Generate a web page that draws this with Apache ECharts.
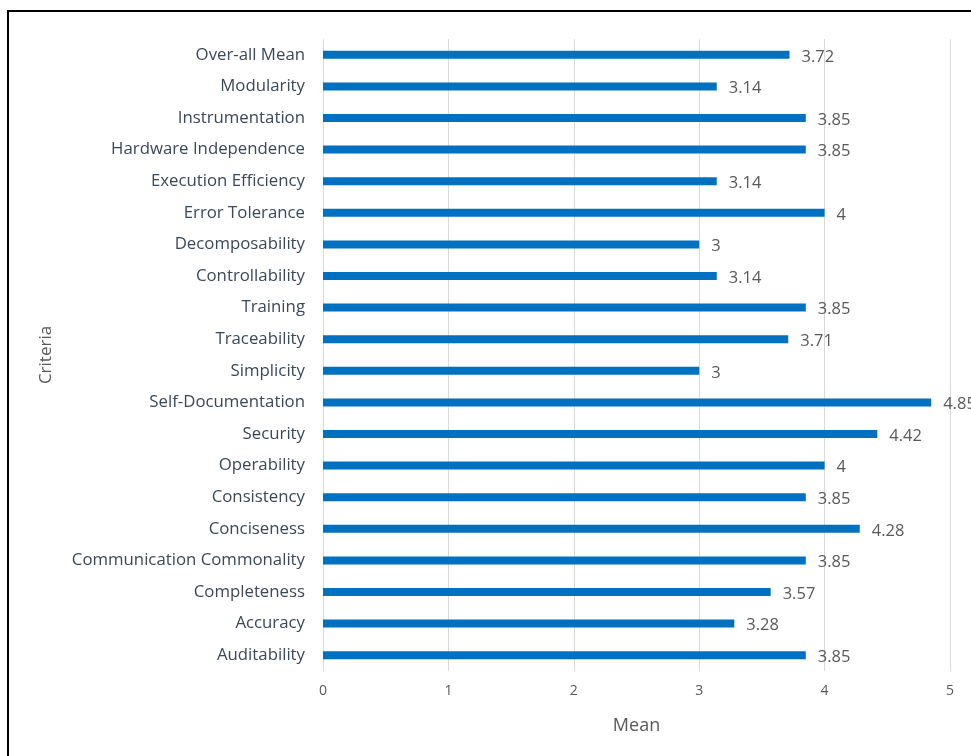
<!DOCTYPE html>
<html>
<head>
<meta charset="utf-8">
<script src="https://cdn.jsdelivr.net/npm/echarts@6/dist/echarts.min.js"></script>
<style>
  html, body { margin: 0; padding: 0; background: #fff; }
  #main { width: 971px; height: 756px; }
</style>
</head>
<body>
<div id="main"></div>
<script>
// categories listed bottom to top
var criteria = ['Auditability', 'Accuracy', 'Completeness', 'Communication Commonality', 'Conciseness',
    'Consistency', 'Operability', 'Security', 'Self-Documentation', 'Simplicity', 'Traceability',
    'Training', 'Controllability', 'Decomposability', 'Error Tolerance', 'Execution Efficiency',
    'Hardware Independence', 'Instrumentation', 'Modularity', 'Over-all Mean'];
var meanValues = [3.85, 3.28, 3.57, 3.85, 4.28, 3.85, 4, 4.42, 4.85, 3, 3.71,
    3.85, 3.14, 3, 4, 3.14, 3.85, 3.85, 3.14, 3.72];
var xTicks = [0, 1, 2, 3, 4, 5];

var myChart = echarts.init(document.getElementById('main'));

var font = '"Open Sans", Lato, sans-serif';

var option = {
    animation: false,
    backgroundColor: '#fff',
    textStyle: {fontFamily: font},
    graphic: [{
        type: 'rect',
        shape: {x: 8, y: 11, width: 1000, height: 800},
        style: {fill: 'none', stroke: '#000', lineWidth: 2}
    }],
    grid: {left: 323, right: 21, top: 39, height: 632, containLabel: false},
    xAxis: {
        type: 'value',
        min: xTicks[0],
        max: xTicks[xTicks.length - 1],
        interval: 1,
        name: 'Mean',
        nameLocation: 'middle',
        nameGap: 46,
        nameTextStyle: {color: '#595959', fontSize: 18, fontFamily: font},
        axisLine: {show: false},
        axisTick: {show: false},
        axisLabel: {color: '#595959', fontSize: 14, margin: 13, fontFamily: font},
        splitLine: {show: true, lineStyle: {color: '#d9d9d9', width: 1}}
    },
    yAxis: {
        type: 'category',
        data: criteria,
        name: 'Criteria',
        nameLocation: 'middle',
        nameGap: 268,
        nameRotate: 90,
        nameTextStyle: {color: '#595959', fontSize: 17, fontFamily: font},
        axisLine: {show: false},
        axisTick: {show: false},
        axisLabel: {color: '#3a4858', fontSize: 16.8, margin: 18, fontFamily: font},
        splitLine: {show: false}
    },
    series: [{
        name: 'Mean',
        type: 'bar',
        data: meanValues,
        barWidth: 8,
        itemStyle: {color: '#0070c0'},
        label: {
            show: true,
            position: 'right',
            distance: 12,
            offset: [0, 2],
            color: '#595959',
            fontSize: 16.5,
            fontFamily: font
        }
    }]
};

myChart.setOption(option);
</script>
</body>
</html>
